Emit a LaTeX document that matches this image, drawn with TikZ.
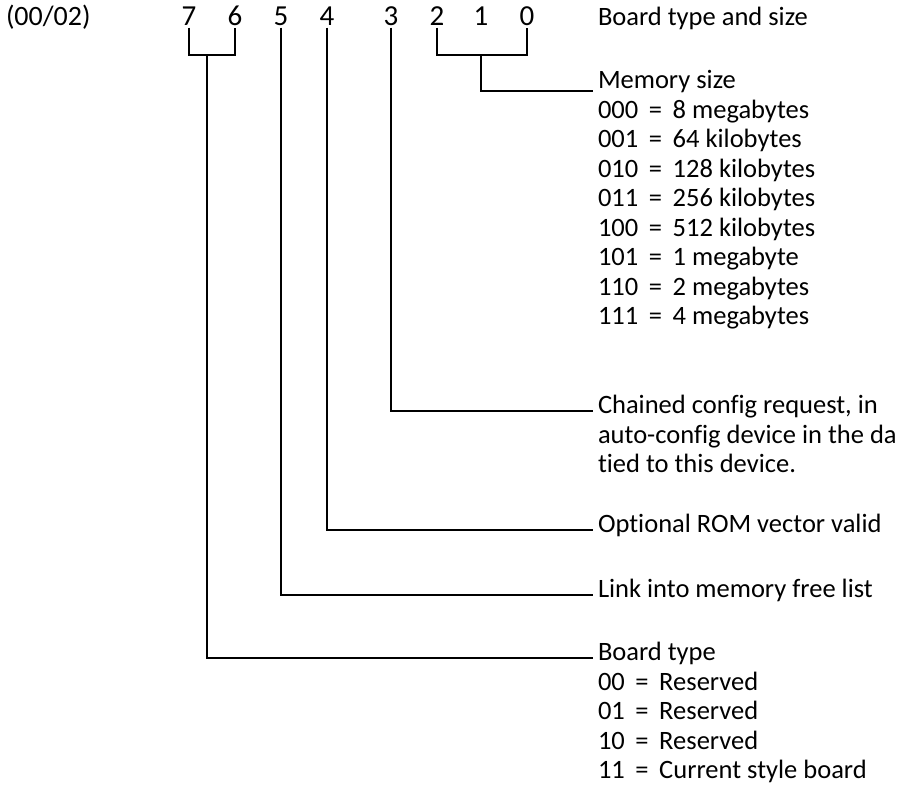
\documentclass[tikz,border=0pt]{standalone}
\usepackage{fontspec}
\setmainfont{Carlito}[Ligatures=NoCommon]
\usetikzlibrary{positioning}

\newcommand{\eqsep}{\hspace{0.4em}=\hspace{0.4em}}

\tikzset{
  txt/.style={inner sep=0pt, text height=0.7em, text depth=0.2em, font=\fontsize{26.5}{29.5}\selectfont},
  bit/.style={txt, font=\fontsize{29}{30}\selectfont},
  label/.style={txt, anchor=west, outer xsep=5pt},
  wire/.style={line width=1.9pt}
}

\begin{document}
\begin{tikzpicture}[x=1pt,y=-1pt]
  \useasboundingbox (0,0) rectangle (903,801);
  % register number and bit numbers
  \node[label,font=\fontsize{28}{30}\selectfont] (reg) at (1,23) {(00/02)};
  \foreach \n/\x in {7/189,6/235,5/281,4/327,3/391,2/437,1/481,0/527}
    \node[bit] (b\n) at (\x,23) {\n};
  \node[label] (title) at (593,23) {Board type and size};
  % memory size
  \node[label] (memsize) at (593,86) {Memory size};
  \foreach \t [count=\i] in {000\eqsep 8 megabytes, 001\eqsep 64 kilobytes,
      010\eqsep 128 kilobytes, 011\eqsep 256 kilobytes, 100\eqsep 512 kilobytes,
      101\eqsep 1 megabyte, 110\eqsep 2 megabytes, 111\eqsep 4 megabytes}
    \node[label] (mem\i) at (593,{86+29.5*\i}) {\t};
  % single bits
  \node[label] (chain) at (593,411) {Chained config request, in};
  \foreach \t [count=\i] in {auto-config device in the da, tied to this device.}
    \node[label] (chain\i) at (593,{411+29.5*\i}) {\t};
  \node[label] (romvec) at (593,530) {Optional ROM vector valid};
  \node[label] (freelist) at (593,595) {Link into memory free list};
  % board type
  \node[label] (boardtype) at (593,658) {Board type};
  \foreach \t [count=\i] in {00\eqsep Reserved, 01\eqsep Reserved,
      10\eqsep Reserved, 11\eqsep Current style board}
    \node[label] (type\i) at (593,{658+29.5*\i}) {\t};
  % brackets for bits 7-6 and 2-0
  \draw[wire] (b7.south) -- ++(0,27) coordinate (k7) -| (b6.south);
  \draw[wire] (b2.south) -- ++(0,27) coordinate (k2) -| (b0.south);
  \path (k7) -- coordinate[pos=0.4] (j76) (k7 -| b6);
  % leader lines
  \draw[wire] (b1 |- k2) |- (memsize.south west);
  \draw[wire] (b3.south) |- (chain.west);
  \draw[wire] (b4.south) |- (romvec.west);
  \draw[wire] (b5.south) |- (freelist.west);
  \draw[wire] (j76) |- (boardtype.west);
\end{tikzpicture}
\end{document}
